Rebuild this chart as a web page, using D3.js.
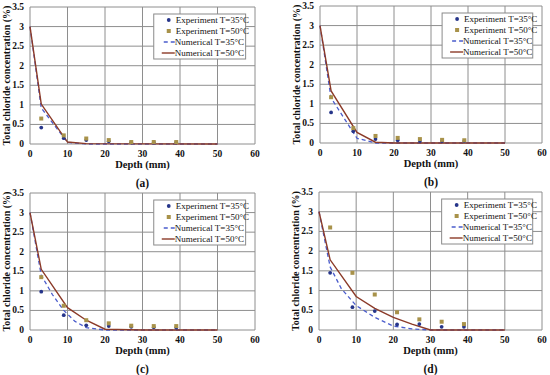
<!DOCTYPE html>
<html>
<head>
<meta charset="utf-8">
<title>Chloride profiles</title>
<script src="https://d3js.org/d3.v7.min.js"></script>
<style>
body { margin: 0; background: #fff; }
svg text { font-family: "Liberation Serif", "Times New Roman", serif; fill: #111; }
</style>
</head>
<body>
<script>
// measured depths (mm)
var expDepth = [3, 9, 15, 21, 27, 33, 39];

// experiment values (%) per panel
var expA35 = [0.42, 0.15, 0.10, 0.07, 0.04, 0.04, 0.04];
var expA50 = [0.65, 0.22, 0.14, 0.10, 0.05, 0.05, 0.05];
var expB35 = [0.78, 0.30, 0.10, 0.07, 0.05, 0.05, 0.05];
var expB50 = [1.17, 0.38, 0.18, 0.13, 0.10, 0.08, 0.07];
var expC35 = [0.98, 0.38, 0.12, 0.10, 0.08, 0.07, 0.06];
var expC50 = [1.35, 0.62, 0.25, 0.17, 0.11, 0.10, 0.10];
var expD35 = [1.45, 0.58, 0.48, 0.14, 0.15, 0.08, 0.08];
var expD50 = [2.60, 1.45, 0.90, 0.45, 0.27, 0.21, 0.15];

// numerical curves [depth, value]
var numA35 = [[0, 3], [3, 0.92], [10, 0.04], [15, 0], [50, 0]];
var numA50 = [[0, 3], [3, 1.02], [10, 0.05], [15, 0.01], [50, 0]];
var numB35 = [[0, 3], [3, 1.15], [10, 0.12], [15, 0], [50, 0]];
var numB50 = [[0, 3], [3, 1.33], [10, 0.27], [15, 0.02], [20, 0], [50, 0]];
var numC35 = [[0, 3], [3, 1.4], [6, 0.9], [9, 0.5], [12, 0.22], [15, 0.06], [20, 0], [50, 0]];
var numC50 = [[0, 3], [3, 1.55], [10, 0.57], [15, 0.25], [20, 0.02], [30, 0], [50, 0]];
var numD35 = [[0, 3], [3, 1.6], [6, 1.05], [10, 0.62], [15, 0.32], [20, 0.1], [25, 0.03], [30, 0], [50, 0]];
var numD50 = [[0, 3], [3, 1.78], [10, 0.85], [15, 0.55], [20, 0.32], [25, 0.15], [30, 0], [50, 0]];

var xTicks = [0, 10, 20, 30, 40, 50, 60];
var yTicks = [0, 0.5, 1, 1.5, 2, 2.5, 3, 3.5];
var legendLabels = ["Experiment T=35°C", "Experiment T=50°C", "Numerical T=35°C", "Numerical T=50°C"];

var c35 = "#26358a", c50 = "#a8924a", cNum35 = "#4a5ccc", cNum50 = "#8b3a28";

var panels = [
  { tag: "(a)", left: 30, right: 255, top: 7, bottom: 144, e35: expA35, e50: expA50, n35: numA35, n50: numA50 },
  { tag: "(b)", left: 320, right: 542, top: 6, bottom: 143, e35: expB35, e50: expB50, n35: numB35, n50: numB50 },
  { tag: "(c)", left: 30, right: 255, top: 193, bottom: 330, e35: expC35, e50: expC50, n35: numC35, n50: numC50 },
  { tag: "(d)", left: 319, right: 542, top: 192, bottom: 330, e35: expD35, e50: expD50, n35: numD35, n50: numD50 }
];

var svg = d3.select("body").append("svg")
  .attr("width", 550)
  .attr("height", 375);

panels.forEach(function(p) {
  var x = d3.scaleLinear().domain([0, 60]).range([p.left, p.right]);
  var y = d3.scaleLinear().domain([0, 3.5]).range([p.bottom, p.top]);
  var g = svg.append("g");

  // grid
  g.selectAll(".vg").data(xTicks).enter().append("line")
    .attr("x1", d => x(d)).attr("x2", d => x(d))
    .attr("y1", p.top).attr("y2", p.bottom)
    .attr("stroke", "#8e8e8e").attr("stroke-width", 1);
  g.selectAll(".hg").data(yTicks).enter().append("line")
    .attr("x1", p.left).attr("x2", p.right)
    .attr("y1", d => y(d)).attr("y2", d => y(d))
    .attr("stroke", "#8e8e8e").attr("stroke-width", 1);

  // tick labels
  g.selectAll(".xt").data(xTicks).enter().append("text")
    .attr("x", d => x(d)).attr("y", p.bottom + 13)
    .attr("text-anchor", "middle")
    .attr("font-size", 9.5).attr("font-weight", "bold")
    .text(d => d);
  g.selectAll(".yt").data(yTicks).enter().append("text")
    .attr("x", p.left - 6).attr("y", d => y(d) + 3)
    .attr("text-anchor", "end")
    .attr("font-size", 9.5).attr("font-weight", "bold")
    .text(d => d);

  // axis titles
  g.append("text")
    .attr("x", (p.left + p.right) / 2).attr("y", p.bottom + 24)
    .attr("text-anchor", "middle")
    .attr("font-size", 10.5).attr("font-weight", "bold")
    .text("Depth (mm)");
  g.append("text")
    .attr("transform", "translate(" + (p.left - 20.5) + "," + ((p.top + p.bottom) / 2) + ") rotate(-90)")
    .attr("text-anchor", "middle")
    .attr("font-size", 10).attr("font-weight", "bold")
    .text("Total chloride concentration (%)");
  g.append("text")
    .attr("x", (p.left + p.right) / 2).attr("y", p.bottom + 43)
    .attr("text-anchor", "middle")
    .attr("font-size", 11.5).attr("font-weight", "bold")
    .text(p.tag);

  // numerical lines
  var line = d3.line().x(d => x(d[0])).y(d => y(d[1]));
  g.append("path").datum(p.n35)
    .attr("d", line).attr("fill", "none")
    .attr("stroke", cNum35).attr("stroke-width", 1.3)
    .attr("stroke-dasharray", "4,3");
  g.append("path").datum(p.n50)
    .attr("d", line).attr("fill", "none")
    .attr("stroke", cNum50).attr("stroke-width", 1.4);

  // experiment points
  g.selectAll(".p35").data(p.e35).enter().append("circle")
    .attr("cx", (d, i) => x(expDepth[i])).attr("cy", d => y(d))
    .attr("r", 1.9)
    .attr("fill", c35);
  g.selectAll(".p50").data(p.e50).enter().append("rect")
    .attr("x", (d, i) => x(expDepth[i]) - 2).attr("y", d => y(d) - 2)
    .attr("width", 4).attr("height", 4)
    .attr("fill", c50);

  // legend
  var lx = x(33), ly = p.top + 7, lw = x(57.5) - x(33);
  var lg = g.append("g");
  lg.append("rect")
    .attr("x", lx).attr("y", ly).attr("width", lw).attr("height", 45)
    .attr("fill", "#fff").attr("stroke", "#8a8a8a").attr("stroke-width", 1);
  legendLabels.forEach(function(t, i) {
    var ry = ly + 6 + i * 11;
    if (i === 0) {
      lg.append("circle").attr("cx", lx + 15).attr("cy", ry).attr("r", 1.9).attr("fill", c35);
    } else if (i === 1) {
      lg.append("rect").attr("x", lx + 13).attr("y", ry - 2).attr("width", 4).attr("height", 4).attr("fill", c50);
    } else if (i === 2) {
      lg.append("line").attr("x1", lx + 10).attr("x2", lx + 21).attr("y1", ry).attr("y2", ry)
        .attr("stroke", cNum35).attr("stroke-width", 1.3).attr("stroke-dasharray", "4,3");
    } else {
      lg.append("line").attr("x1", lx + 8).attr("x2", lx + 21).attr("y1", ry).attr("y2", ry)
        .attr("stroke", cNum50).attr("stroke-width", 1.4);
    }
    lg.append("text")
      .attr("x", i < 2 ? lx + 22 : lx + 21).attr("y", ry + 3)
      .attr("font-size", 9)
      .text(t);
  });
});
</script>
</body>
</html>
